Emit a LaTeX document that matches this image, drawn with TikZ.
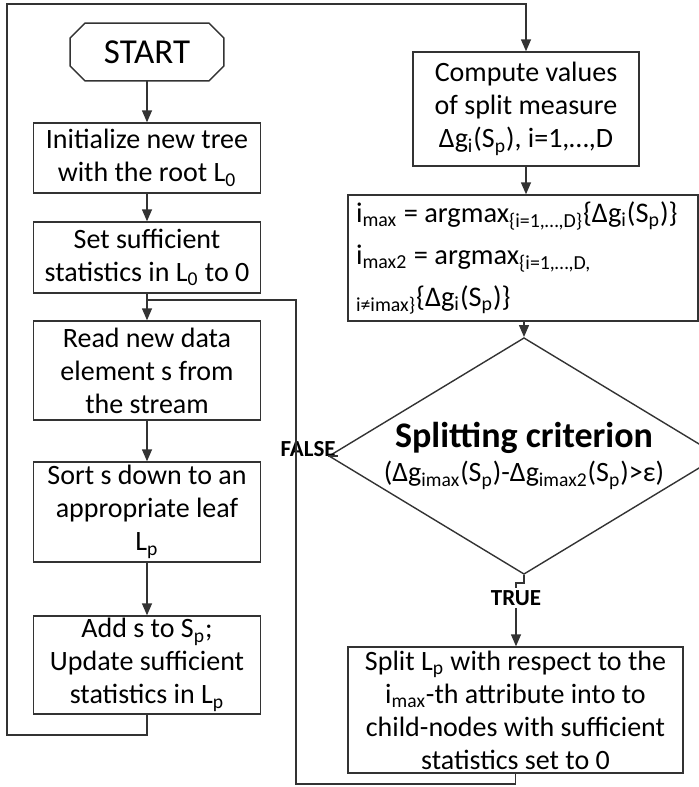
\documentclass[tikz,border=0pt]{standalone}
\usepackage{fontspec}
\setmainfont{Carlito}
\usetikzlibrary{shapes.geometric, arrows.meta}

\begin{document}
\begin{tikzpicture}[
    x=0.5pt, y=-0.5pt,
    flow/.style={-{Triangle[width=5pt,length=6pt]}, draw=black!80, line width=0.7pt},
    link/.style={draw=black!80, line width=0.7pt},
    stepbox/.style={
        rectangle,
        draw=black!80,
        line width=0.7pt,
        minimum width=113.5pt,
        inner sep=1pt,
        align=center,
        font=\fontsize{14}{16.5}\selectfont
    },
    terminal/.style={
        rectangle,
        minimum width=76.5pt,
        minimum height=28.5pt,
        inner sep=0pt,
        font=\fontsize{17.5}{20}\selectfont
    },
    decision/.style={
        diamond,
        draw=black!80,
        line width=0.7pt,
        shape aspect=1.65,
        inner sep=0pt,
        minimum width=174.5pt,
        minimum height=106pt,
        align=center,
        font=\fontsize{14}{17}\selectfont
    },
    answer/.style={font=\fontsize{11.5}{13}\selectfont\bfseries, inner sep=1pt}
]

\useasboundingbox (0,0) rectangle (698,787);

% Nodes
\node[terminal] (start) at (147,52) {START};
\node[stepbox, minimum height=35pt] (init) at (147,158) {Initialize new tree\\with the root L\textsubscript{0}};
\node[stepbox, minimum height=35.5pt] (setst) at (147,257.5) {Set sufficient\\statistics in L\textsubscript{0} to 0};
\node[stepbox, minimum height=49.5pt] (readel) at (147,370.5) {Read new data\\element s from\\the stream};
\node[stepbox, minimum height=50pt] (sortel) at (147,512) {Sort s down to an\\appropriate leaf\\L\textsubscript{p}};
\node[stepbox, minimum height=49pt] (addel) at (147,665) {Add s to S\textsubscript{p};\\Update sufficient\\statistics in L\textsubscript{p}};

\node[stepbox, minimum width=113pt, minimum height=57pt] (compute) at (526,109) {Compute values\\of split measure\\Δg\textsubscript{i}(S\textsubscript{p}), i=1,…,D};
\node[stepbox, minimum width=175pt, minimum height=63pt, inner xsep=4pt, text width=167pt, align=flush left,
      font=\fontsize{14.2}{21}\selectfont] (argm) at (523,258)
    {i\textsubscript{max} = argmax\textsubscript{\{i=1,…,D\}}\{Δg\textsubscript{i}(S\textsubscript{p})\}\\
     i\textsubscript{max2} = argmax\textsubscript{\{i=1,…,D,}\\
     \textsubscript{i≠imax\}}\{Δg\textsubscript{i}(S\textsubscript{p})\}};
\node[decision] (dia) at (524,456)
    {{\fontsize{18}{21}\selectfont\bfseries Splitting criterion}\\(Δg\textsubscript{imax}(S\textsubscript{p})-Δg\textsubscript{imax2}(S\textsubscript{p})>ε)};
\node[answer, fill=white] (true) at (516,598) {TRUE};
\node[answer, anchor=base east] (false) at (338,456) {FALSE};
\node[stepbox, minimum width=167.5pt, minimum height=63pt, inner sep=0.5pt] (split) at (515.5,710)
    {Split L\textsubscript{p} with respect to the\\i\textsubscript{max}-th attribute into to\\child-nodes with sufficient\\statistics set to 0};

% START outline with cut corners
\draw[link] ([xshift=7.5pt]start.north west) -- ([xshift=-7.5pt]start.north east)
    -- ([yshift=-7.5pt]start.north east) -- ([yshift=7.5pt]start.south east)
    -- ([xshift=-7.5pt]start.south east) -- ([xshift=7.5pt]start.south west)
    -- ([yshift=7.5pt]start.south west) -- ([yshift=-7.5pt]start.north west) -- cycle;

% Corner points of the loops
\coordinate (lp1) at (7,735);
\coordinate (lp2) at (7,4);
\coordinate (tj) at (516,583);
\coordinate (rt1) at (296,784);
\coordinate (rt2) at (296,300);

% Edges
\draw[flow] (start) -- (init);
\draw[flow] (init) -- (setst);
\draw[flow] (setst) -- (readel);
\draw[flow] (readel) -- (sortel);
\draw[flow] (sortel) -- (addel);
\draw[flow] (addel.south) |- (lp1) -- (lp2) -| (compute.north);
\draw[flow] (compute) -- (argm.north -| compute);
\draw[flow] (argm.south -| dia.north) -- (dia.north);
\draw[link] (dia.south) |- (tj) -- (true);
\draw[flow] (true) -- (split.north -| true);
\draw[link] (dia.west) -- (false.base east);
\draw[link] (split.south) |- (rt1) -- (rt2) -- (setst.south |- rt2);

\end{tikzpicture}
\end{document}
